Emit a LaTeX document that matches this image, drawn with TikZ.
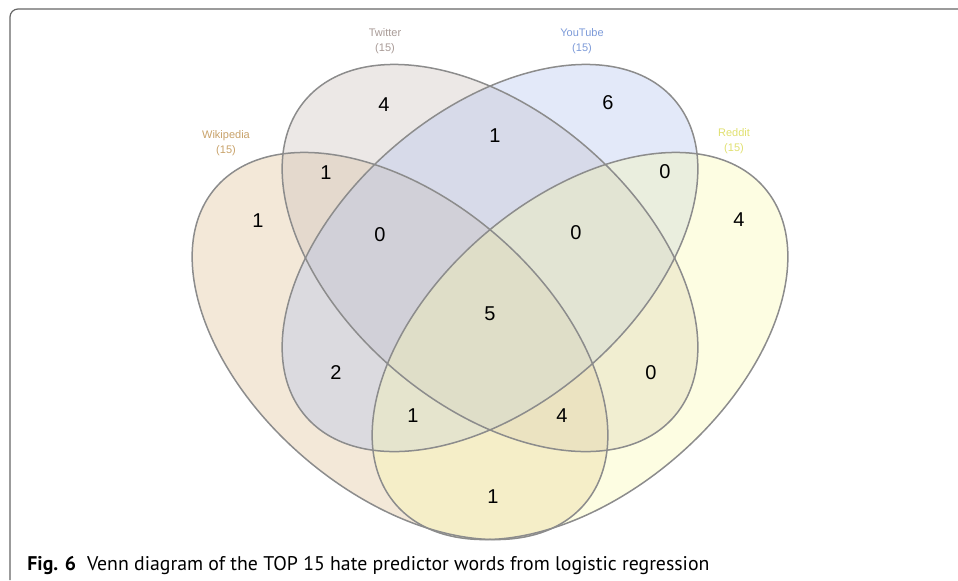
\documentclass[tikz,border=0pt]{standalone}
\usepackage{fontspec}
\setmainfont{Liberation Sans}
\newfontfamily\captionfont{PT Sans}
\definecolor{wikipedia}{HTML}{DDBD90}
\definecolor{twitter}{HTML}{C9BDB8}
\definecolor{youtube}{HTML}{AFC0EE}
\definecolor{reddit}{HTML}{F9F9AC}
\definecolor{wikipedia title}{HTML}{C8A26A}
\definecolor{twitter title}{HTML}{A89A96}
\definecolor{youtube title}{HTML}{7C9AD8}
\definecolor{reddit title}{HTML}{E0E070}
\tikzset{
	venn/.cd,
	frame/.style = {
		draw = black!60,
		line width = 0.6pt,
		rounded corners = 4pt
	},
	outline/.style = {
		draw = black!45,
		line width = 0.75pt
	},
	title/.style = {
		align = center,
		inner sep = 0pt,
		font = \fontsize{5.5}{7.4}\selectfont
	},
}

\begin{document}
\begin{tikzpicture}[
		x = 0.5pt, y = 0.5pt,
		region/.style = {
			font = \fontsize{10}{12}\selectfont,
			inner sep = 0pt
		}]
		\def\ra{243}
		\def\rb{147}
		\def\tilt{40.6}
		\useasboundingbox (0, 0) rectangle (958, -580);
		\draw[venn/frame] (10, -580) -- (10, -9) -- (958, -9);
		\coordinate (wikipedia) at (400, -346);
		\coordinate (twitter) at (490, -258);
		\coordinate (youtube) at (490, -258);
		\coordinate (reddit) at (580, -346);
		\foreach \set/\ang in {wikipedia/-\tilt, twitter/-\tilt, youtube/\tilt, reddit/\tilt}{
			\fill[fill = \set, fill opacity = 0.35, shift = {(\set)}, rotate = \ang] (0, 0) ellipse [x radius = \ra, y radius = \rb];
		}
		\foreach \set/\ang in {wikipedia/-\tilt, twitter/-\tilt, youtube/\tilt, reddit/\tilt}{
			\draw[venn/outline, shift = {(\set)}, rotate = \ang] (0, 0) ellipse [x radius = \ra, y radius = \rb];
		}
		\node[venn/title, text = wikipedia title] (wikipedia-title) at (226, -143) {Wikipedia\\(15)};
		\node[venn/title, text = twitter title] (twitter-title) at (385, -41) {Twitter\\(15)};
		\node[venn/title, text = youtube title] (youtube-title) at (582, -41) {YouTube\\(15)};
		\node[venn/title, text = reddit title] (reddit-title) at (734, -141) {Reddit\\(15)};
		\foreach \x/\y/\n/\id in {258/221/1/w, 384/105/4/t, 608/103/6/y, 739/220/4/r, 326/173/1/wt, 495/136/1/ty, 665/172/0/yr, 380/235/0/wty, 576/233/0/tyr, 490/314/5/wtyr, 336/373/2/wy, 651/373/0/tr, 413/416/1/wyr, 562/416/4/wtr, 493/497/1/wr}{
			\node[region] (n-\id) at (\x, -\y) {\n};
		}
		\node[anchor = base west, inner sep = 0pt, font = \captionfont\fontsize{9.9}{11.5}\selectfont] (caption) at (27, -570) {\textbf{Fig. 6}\hspace{0.55em}Venn diagram of the TOP 15 hate predictor words from logistic regression};
	\end{tikzpicture}
\end{document}
